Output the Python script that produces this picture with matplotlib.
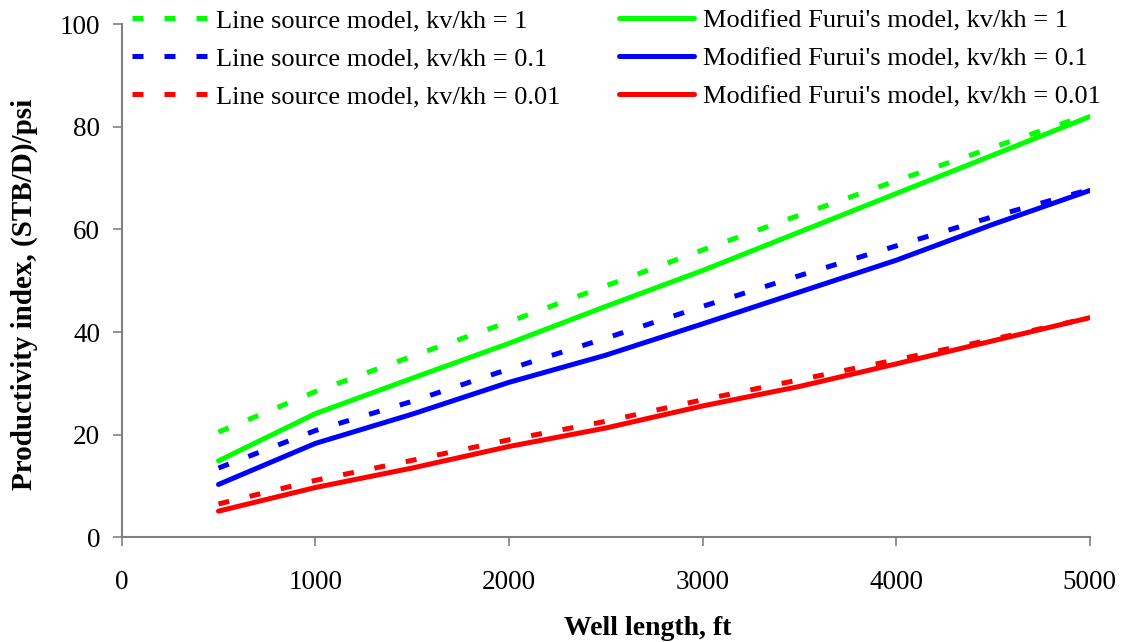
"""
Productivity index vs well length: line source model vs modified Furui's model.
"""

import matplotlib
matplotlib.use("Agg")
import matplotlib.pyplot as plt

well_length = [500, 1000, 1500, 2000, 2500, 3000, 3500, 4000, 4500, 5000]

line_source_1 = [20.5, 28.4, 35.3, 42.0, 49.0, 56.0, 62.8, 69.5, 76.0, 82.5]
line_source_01 = [13.5, 20.8, 26.5, 32.8, 38.8, 45.0, 51.0, 56.8, 62.5, 67.8]
line_source_001 = [6.5, 11.1, 15.0, 19.0, 22.6, 26.8, 30.7, 34.6, 38.6, 42.8]

furui_1 = [14.9, 24.1, 31.0, 37.8, 45.0, 52.0, 59.5, 67.0, 74.5, 82.0]
furui_01 = [10.3, 18.3, 24.0, 30.2, 35.5, 41.6, 47.8, 54.0, 61.0, 67.6]
furui_001 = [5.1, 9.7, 13.5, 17.7, 21.3, 25.6, 29.4, 33.8, 38.3, 42.8]

ratios = ["1", "0.1", "0.01"]
colors = ["#00ff00", "#0000ff", "#ff0000"]

plt.rcParams["font.family"] = ["Liberation Serif", "DejaVu Serif"]

W, H = 1123, 642
fig = plt.figure(figsize=(W / 100, H / 100), dpi=100)
ax = fig.add_axes([121.7 / W, 1 - 537.3 / H, 968 / W, 513 / H])

lw = 3.6
for ys, c, r in zip([line_source_1, line_source_01, line_source_001], colors, ratios):
    ax.plot(well_length, ys, color=c, lw=lw, dashes=(2.2, 4.2), dash_capstyle="butt",
            label=f"Line source model, kv/kh = {r}")
for ys, c, r in zip([furui_1, furui_01, furui_001], colors, ratios):
    ax.plot(well_length, ys, color=c, lw=lw, solid_capstyle="round",
            label=f"Modified Furui's model, kv/kh = {r}")

ax.set_xlim(0, 5000)
ax.set_ylim(0, 100)
ax.set_xticks(range(0, 5001, 1000))
ax.set_yticks(range(0, 101, 20))

for side in ["top", "right"]:
    ax.spines[side].set_visible(False)
for side in ["left", "bottom"]:
    ax.spines[side].set_color("#808080")
    ax.spines[side].set_linewidth(1.5)
ax.tick_params(axis="both", direction="out", length=6.5, width=1.2, color="#808080",
               labelsize=19.5)
ax.tick_params(axis="x", pad=17)
ax.tick_params(axis="y", pad=9)

fig.text(647.5 / W, 1 - 635 / H, "Well length, ft", ha="center", va="baseline",
         fontsize=20, fontweight="bold")
fig.text(24 / W, 1 - 294 / H, "Productivity index, (STB/D)/psi", ha="center",
         va="center", rotation=90, fontsize=21, fontweight="bold")

ax.legend(loc="upper left", bbox_to_anchor=(132 / W, 1 - 9 / H),
          bbox_transform=fig.transFigure, ncol=2, frameon=False, fontsize=19,
          handlelength=2.85, handletextpad=0.35, columnspacing=2.2,
          labelspacing=0.55, borderpad=0, borderaxespad=0)

fig.savefig("out.png", dpi=100)
